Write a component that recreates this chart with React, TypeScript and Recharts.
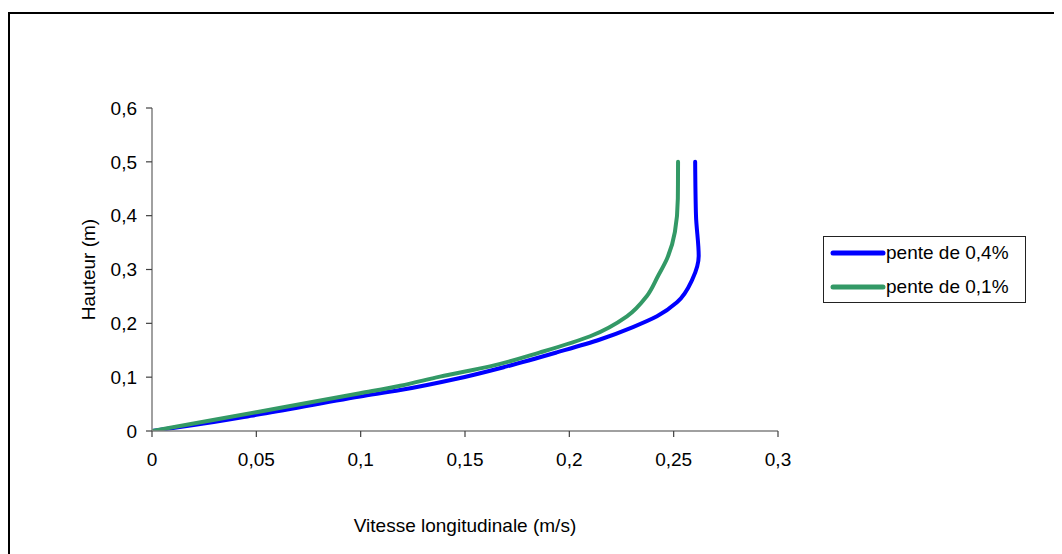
import React from "react";
import { LineChart, Line, XAxis, YAxis, Legend, Label } from "recharts";

const xTicks = [0, 0.05, 0.1, 0.15, 0.2, 0.25, 0.3];
const yTicks = [0, 0.1, 0.2, 0.3, 0.4, 0.5, 0.6];

const seriesNames = ["pente de 0,4%", "pente de 0,1%"];
const seriesColors = ["#0000FF", "#339966"];

// pente de 0,4%  (vitesse, hauteur)
const pente04 = [
  { v: 0, h: 0 },
  { v: 0.02, h: 0.011 },
  { v: 0.05, h: 0.03 },
  { v: 0.0997, h: 0.064 },
  { v: 0.119, h: 0.076 },
  { v: 0.146, h: 0.097 },
  { v: 0.17, h: 0.12 },
  { v: 0.194, h: 0.146 },
  { v: 0.2147, h: 0.17 },
  { v: 0.2305, h: 0.193 },
  { v: 0.242, h: 0.213 },
  { v: 0.2516, h: 0.239 },
  { v: 0.259, h: 0.282 },
  { v: 0.262, h: 0.325 },
  { v: 0.2607, h: 0.4 },
  { v: 0.2603, h: 0.5 },
];

// pente de 0,1%
const pente01 = [
  { v: 0, h: 0 },
  { v: 0.02, h: 0.014 },
  { v: 0.05, h: 0.035 },
  { v: 0.0997, h: 0.07 },
  { v: 0.119, h: 0.084 },
  { v: 0.138, h: 0.101 },
  { v: 0.162, h: 0.12 },
  { v: 0.186, h: 0.146 },
  { v: 0.21, h: 0.176 },
  { v: 0.2276, h: 0.213 },
  { v: 0.237, h: 0.25 },
  { v: 0.2425, h: 0.288 },
  { v: 0.2468, h: 0.32 },
  { v: 0.2506, h: 0.37 },
  { v: 0.252, h: 0.432 },
  { v: 0.2521, h: 0.5 },
];

const FONT = "'Liberation Sans', Arial, sans-serif";
const fmt = (v: number) => String(v).replace(".", ",");

const LegendBox = () => (
  <div
    style={{
      width: 203,
      height: 67,
      boxSizing: "border-box",
      border: "1px solid #222",
      background: "#fff",
      fontFamily: FONT,
      fontSize: 19,
      color: "#000",
      position: "relative",
    }}
  >
    {seriesNames.map((name, i) => (
      <div
        key={name}
        style={{
          position: "absolute",
          left: 6,
          top: 16 + i * 34 - 12,
          height: 24,
          display: "flex",
          alignItems: "center",
          whiteSpace: "nowrap",
        }}
      >
        <svg width={56} height={10} style={{ display: "block" }}>
          <line x1={3} y1={5} x2={53} y2={5} stroke={seriesColors[i]} strokeWidth={5} strokeLinecap="round" />
        </svg>
        <span>{name}</span>
      </div>
    ))}
  </div>
);

export default function App() {
  return (
    <div style={{ position: "relative", width: 1054, height: 546, overflow: "hidden" }}>
      <div
        style={{
          position: "absolute",
          left: 0,
          top: 4,
          width: 1200,
          height: 700,
          borderTop: "2px solid #000",
          borderLeft: "2px solid #000",
        }}
      />
      <LineChart
        width={1054}
        height={546}
        margin={{ top: 100, right: 81, bottom: 22, left: 74 }}
        style={{ position: "absolute", left: 0, top: 0 }}
      >
        <XAxis
          type="number"
          dataKey="v"
          domain={[0, 0.3]}
          ticks={xTicks}
          tickFormatter={fmt}
          allowDataOverflow
          height={101}
          tickSize={6}
          tickMargin={16}
          axisLine={{ stroke: "#808080", strokeWidth: 1.5 }}
          tickLine={{ stroke: "#404040", strokeWidth: 1.2 }}
          tick={{ fill: "#000", fontSize: 19, fontFamily: FONT }}
        >
          <Label
            value="Vitesse longitudinale (m/s)"
            position="insideBottom"
            offset={0}
            style={{ fill: "#000", fontSize: 19, fontFamily: FONT }}
          />
        </XAxis>
        <YAxis
          type="number"
          dataKey="h"
          domain={[0, 0.6]}
          ticks={yTicks}
          tickFormatter={fmt}
          allowDataOverflow
          width={70}
          tickSize={6}
          tickMargin={9}
          axisLine={{ stroke: "#808080", strokeWidth: 1.5 }}
          tickLine={{ stroke: "#404040", strokeWidth: 1.2 }}
          tick={{ fill: "#000", fontSize: 19, fontFamily: FONT }}
        >
          <Label
            value="Hauteur (m)"
            angle={-90}
            position="insideLeft"
            offset={6}
            style={{ fill: "#000", fontSize: 19, fontFamily: FONT, textAnchor: "middle" }}
          />
        </YAxis>
        <Legend
          layout="vertical"
          align="right"
          verticalAlign="middle"
          content={() => <LegendBox />}
          wrapperStyle={{ left: 815, top: 228, width: 203, height: 67 }}
        />
        <Line
          data={pente04}
          dataKey="h"
          name={seriesNames[0]}
          stroke={seriesColors[0]}
          strokeWidth={4}
          dot={false}
          type="monotoneY"
          isAnimationActive={false}
          strokeLinejoin="round"
          strokeLinecap="round"
        />
        <Line
          data={pente01}
          dataKey="h"
          name={seriesNames[1]}
          stroke={seriesColors[1]}
          strokeWidth={4}
          dot={false}
          type="monotoneY"
          isAnimationActive={false}
          strokeLinejoin="round"
          strokeLinecap="round"
        />
      </LineChart>
    </div>
  );
}
